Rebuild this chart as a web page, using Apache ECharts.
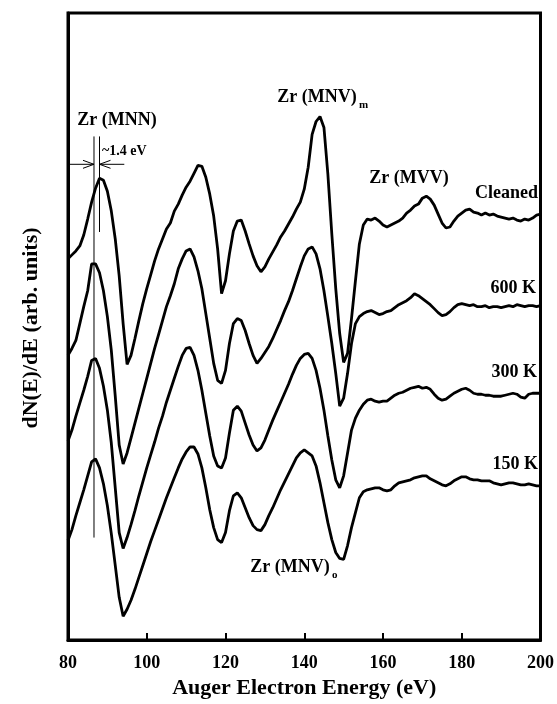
<!DOCTYPE html>
<html>
<head>
<meta charset="utf-8">
<script src="https://cdn.jsdelivr.net/npm/echarts@6/dist/echarts.min.js"></script>
<style>
  html, body { margin: 0; padding: 0; background: #fff; }
  #auger { width: 557px; height: 704px; }
</style>
</head>
<body>
<div id="auger"></div>
<script>
// Auger spectra of Zr, dN(E)/dE in arb. units (spectra already stacked)
let energies = [
  80, 81, 82, 83, 84, 85, 86, 87, 88, 89, 90, 91, 92, 93, 94, 95, 96, 97, 98, 99,
  100, 101, 102, 103, 104, 105, 106, 107, 108, 109, 110, 111, 112, 113, 114, 115, 116, 117, 118, 119,
  120, 121, 122, 123, 124, 125, 126, 127, 128, 129, 130, 131, 132, 133, 134, 135, 136, 137, 138, 139,
  140, 141, 142, 143, 144, 145, 146, 147, 148, 149, 150, 151, 152, 153, 154, 155, 156, 157, 158, 159,
  160, 161, 162, 163, 164, 165, 166, 167, 168, 169, 170, 171, 172, 173, 174, 175, 176, 177, 178, 179,
  180, 181, 182, 183, 184, 185, 186, 187, 188, 189, 190, 191, 192, 193, 194, 195, 196, 197, 198, 199,
  200
]

let cleaned = [
  383, 387, 391, 396, 407, 423, 440, 454, 464, 462, 451, 431, 403, 366, 318, 277, 286, 303, 321, 338,
  353, 367, 381, 393, 403, 413, 419, 431, 438, 447, 455, 461, 469, 477, 476, 465, 448, 426, 393, 348,
  361, 388, 411, 421, 422, 411, 398, 386, 376, 370, 375, 383, 390, 397, 405, 411, 418, 425, 433, 440,
  453, 475, 508, 521, 526, 515, 468, 408, 353, 308, 279, 288, 323, 361, 398, 417, 423, 422, 424, 421,
  417, 415, 417, 419, 421, 424, 429, 432, 436, 438, 444, 446, 443, 437, 428, 419, 414, 415, 421, 426,
  429, 432, 433, 430, 429, 427, 429, 427, 428, 426, 425, 424, 423, 424, 422, 421, 423, 422, 424, 427,
  428
]

let k600 = [
  286, 293, 301, 318, 335, 351, 378, 378, 369, 351, 325, 291, 245, 196, 177, 188, 203, 218, 233, 248,
  263, 278, 293, 307, 321, 335, 346, 358, 373, 383, 391, 393, 385, 371, 353, 328, 303, 278, 261, 258,
  271, 298, 318, 323, 321, 311, 298, 286, 278, 283, 289, 295, 303, 312, 321, 331, 340, 351, 363, 375,
  386, 393, 395, 388, 373, 351, 325, 298, 268, 235, 243, 268, 298, 318, 325, 328, 330, 331, 329, 327,
  328, 330, 331, 334, 337, 339, 341, 344, 348, 346, 343, 340, 337, 333, 329, 326, 327, 330, 334, 337,
  338, 337, 336, 337, 335, 335, 336, 334, 335, 335, 334, 335, 336, 335, 337, 336, 335, 336, 336, 335,
  336
]

let k300 = [
  200, 211, 225, 238, 251, 265, 281, 283, 273, 255, 231, 198, 153, 108, 92, 103, 116, 130, 145, 159,
  173, 186, 199, 213, 225, 239, 251, 263, 275, 286, 293, 294, 286, 271, 251, 228, 205, 185, 175, 173,
  183, 208, 231, 235, 230, 218, 206, 196, 190, 193, 201, 211, 221, 230, 239, 248, 257, 267, 276, 283,
  287, 288, 283, 271, 253, 231, 205, 181, 161, 153, 165, 188, 211, 223, 231, 237, 241, 242, 240, 239,
  240, 240, 243, 246, 248, 249, 251, 253, 254, 255, 253, 254, 252, 247, 243, 241, 242, 245, 248, 250,
  252, 253, 251, 248, 247, 247, 246, 246, 245, 245, 245, 246, 247, 248, 247, 244, 243, 247, 248, 248,
  248
]

let k150 = [
  100, 111, 125, 138, 151, 165, 179, 182, 173, 157, 135, 107, 75, 43, 24, 31, 40, 51, 63, 75,
  87, 99, 110, 121, 132, 143, 153, 163, 173, 182, 189, 194, 194, 187, 173, 153, 131, 113, 101, 98,
  108, 130, 145, 148, 143, 133, 123, 115, 111, 110, 116, 125, 133, 142, 151, 159, 167, 175, 183, 188,
  191, 188, 185, 175, 158, 138, 118, 101, 88, 82, 81, 95, 113, 128, 143, 149, 151, 152, 153, 153,
  151, 150, 151, 155, 158, 159, 160, 161, 163, 164, 165, 165, 162, 160, 158, 156, 155, 157, 160, 162,
  164, 164, 162, 161, 161, 160, 160, 160, 158, 157, 156, 157, 158, 158, 157, 156, 156, 157, 156, 155,
  155
]

let seriesNames = ['Cleaned', '600 K', '300 K', '150 K']
let xTicks = [80, 100, 120, 140, 160, 180, 200]

// MNN peak positions (cleaned vs annealed), about 1.4 eV apart
let mnnPeaks = [86.6, 88.0]

let serif = '"Liberation Serif", "Times New Roman", serif'

let dom = document.getElementById('auger')
let myChart = echarts.init(dom, null, { renderer: 'canvas' })

let pairs = function (vals) {
  return vals.map(function (v, i) { return [energies[i], v] })
}

let curve = function (name, vals) {
  return {
    name: name,
    type: 'line',
    data: pairs(vals),
    showSymbol: false,
    symbol: 'none',
    silent: true,
    lineStyle: { color: '#000', width: 2.8 },
    z: 3
  }
}

// thin marker lines and the ~1.4 eV arrows
let annotation = {
  type: 'custom',
  silent: true,
  z: 4,
  data: [[0, 0]],
  renderItem: function (params, api) {
    let a = mnnPeaks[0], b = mnnPeaks[1]
    let lineA = [api.coord([a, 506]), api.coord([a, 103])]
    let lineB = [api.coord([b, 506]), api.coord([b, 410])]
    let yArr = 478
    let l0 = api.coord([80, yArr]), l1 = api.coord([a, yArr])
    let r0 = api.coord([94.3, yArr]), r1 = api.coord([b, yArr])
    let thin = { stroke: '#000', lineWidth: 1, fill: 'none' }
    let seg = function (p, q) {
      return { type: 'line', shape: { x1: p[0], y1: p[1], x2: q[0], y2: q[1] }, style: thin }
    }
    let head = function (tip, dir) {
      return {
        type: 'polyline',
        shape: { points: [[tip[0] - dir * 11, tip[1] - 4], tip, [tip[0] - dir * 11, tip[1] + 4]] },
        style: thin
      }
    }
    return {
      type: 'group',
      children: [
        seg(lineA[0], lineA[1]),
        seg(lineB[0], lineB[1]),
        seg(l0, l1), head(l1, 1),
        seg(r0, r1), head(r1, -1)
      ]
    }
  }
}

let txt = function (text, x, y, size, align) {
  return {
    type: 'text',
    x: x,
    y: y,
    silent: true,
    z: 10,
    style: {
      text: text,
      font: 'bold ' + size + 'px ' + serif,
      fill: '#000',
      align: align || 'center',
      verticalAlign: 'middle',
      textAlign: align || 'center',
      textVerticalAlign: 'middle'
    }
  }
}

let yTitle = txt('dN(E)/dE (arb. units)', 31, 328, 22)
yTitle.rotation = Math.PI / 2

let option = {
  animation: false,
  backgroundColor: '#fff',
  grid: {
    left: 68,
    right: 15,
    top: 13,
    bottom: 61,
    show: true,
    borderColor: '#000',
    borderWidth: 3,
    backgroundColor: 'transparent'
  },
  xAxis: {
    type: 'value',
    min: 80,
    max: 200,
    interval: 20,
    name: 'Auger Electron Energy (eV)',
    nameLocation: 'middle',
    nameGap: 32,
    nameTextStyle: { fontFamily: serif, fontWeight: 'bold', fontSize: 22, color: '#000' },
    axisLine: { show: true, lineStyle: { color: '#000', width: 3 } },
    axisTick: { show: true, inside: true, length: 7, lineStyle: { color: '#000', width: 2 } },
    splitLine: { show: false },
    axisLabel: {
      margin: 14,
      fontFamily: serif,
      fontWeight: 'bold',
      fontSize: 18,
      color: '#000',
      customValues: xTicks,
      formatter: function (v) { return String(v) }
    }
  },
  yAxis: {
    type: 'value',
    min: 0,
    max: 630,
    axisLine: { show: true, lineStyle: { color: '#000', width: 3 } },
    axisTick: { show: false },
    axisLabel: { show: false },
    splitLine: { show: false }
  },
  graphic: [
    yTitle,
    txt('Zr (MNN)', 117, 120, 18),
    txt('~1.4 eV', 102, 151, 14, 'left'),
    txt('Zr (MNV)', 317, 97, 18),
    txt('m', 359, 105, 11, 'left'),
    txt('Zr (MVV)', 409, 178, 18),
    txt(seriesNames[0], 538, 193, 18, 'right'),
    txt(seriesNames[1], 536, 288, 18, 'right'),
    txt(seriesNames[2], 537, 372, 18, 'right'),
    txt(seriesNames[3], 538, 464, 18, 'right'),
    txt('Zr (MNV)', 290, 567, 18),
    txt('o', 332, 575, 11, 'left')
  ],
  series: [
    curve(seriesNames[0], cleaned),
    curve(seriesNames[1], k600),
    curve(seriesNames[2], k300),
    curve(seriesNames[3], k150),
    annotation
  ]
}

myChart.setOption(option, true)

window.addEventListener('resize', function () {
  myChart.resize()
})
</script>
</body>
</html>
